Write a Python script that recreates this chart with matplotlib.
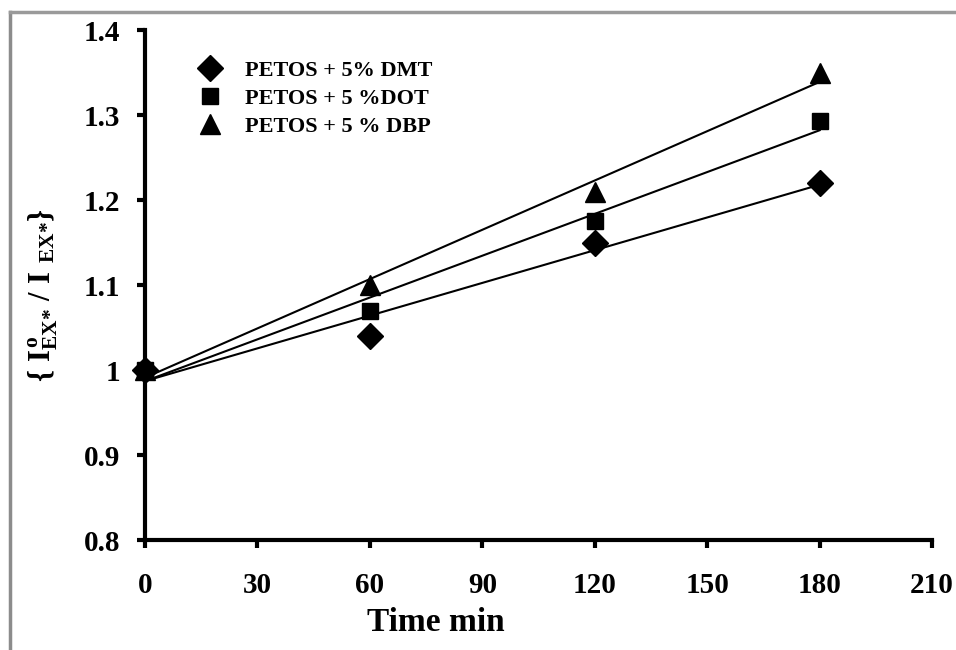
import numpy as np
import matplotlib
matplotlib.use('Agg')
import matplotlib.pyplot as plt
from matplotlib.lines import Line2D

# data
time_min = [0, 60, 120, 180]
dmt = [1.0, 1.04, 1.15, 1.22]
dot = [1.0, 1.07, 1.175, 1.293]
dbp = [1.0, 1.10, 1.21, 1.35]
labels = ['PETOS + 5% DMT', 'PETOS + 5 %DOT', 'PETOS + 5 % DBP']

plt.rcParams['font.family'] = ['Liberation Serif', 'DejaVu Serif']
plt.rcParams['font.weight'] = 'bold'
plt.rcParams['mathtext.fontset'] = 'custom'
plt.rcParams['mathtext.rm'] = 'Liberation Serif:bold'
plt.rcParams['mathtext.it'] = 'Liberation Serif:bold'
plt.rcParams['mathtext.bf'] = 'Liberation Serif:bold'

fig = plt.figure(figsize=(9.56, 6.5), dpi=100)
ax = fig.add_axes([0.1517, 0.1692, 0.8233, 0.7846])

x = np.array(time_min)
markers = ['D', 's', '^']
sizes = [13, 12, 14]
for ys, m, ms, lab in zip([dmt, dot, dbp], markers, sizes, labels):
    ax.plot(x, ys, linestyle='none', marker=m, markersize=ms, color='black',
            label=lab, clip_on=False, zorder=3)
    # linear trend line
    k, b = np.polyfit(x, ys, 1)
    ax.plot(x, k * x + b, color='black', linewidth=1.5)

ax.set_xlim(0, 210)
ax.set_ylim(0.8, 1.4)
ax.set_xticks(np.arange(0, 211, 30))
ax.set_yticks([0.8, 0.9, 1.0, 1.1, 1.2, 1.3, 1.4])
ax.set_yticklabels(['0.8', '0.9', '1', '1.1', '1.2', '1.3', '1.4'])

for s in ['top', 'right']:
    ax.spines[s].set_visible(False)
for s in ['left', 'bottom']:
    ax.spines[s].set_linewidth(3)
ax.tick_params(axis='both', direction='out', length=6, width=3, labelsize=21)
ax.tick_params(axis='x', pad=17)
ax.tick_params(axis='y', pad=12)
for t in ax.get_xticklabels() + ax.get_yticklabels():
    t.set_fontweight('bold')

ax.set_xlabel('Time min', fontsize=24, fontweight='bold')
ax.xaxis.set_label_coords(0.37, -0.131)
ax.set_ylabel(r'$\{\ I^{o}_{\text{EX*}}\ /\ I\ _{\text{EX*}}\}$', fontsize=22)
ax.yaxis.set_label_coords(-0.108, 0.48)

leg = ax.legend(loc='upper left', bbox_to_anchor=(0.04, 0.98), frameon=False,
                prop={'family': 'Liberation Serif', 'weight': 'bold', 'size': 16},
                handletextpad=1.0, labelspacing=0.33, handlelength=1.2)

# outer frame remnants (left and top)
fig.add_artist(Line2D([0.0105, 0.0105], [0, 0.982], transform=fig.transFigure, color='#8c8c8c', lw=2.5))
fig.add_artist(Line2D([0.0105, 1.0], [0.982, 0.982], transform=fig.transFigure, color='#9a9a9a', lw=2.5))

fig.savefig('out.png', dpi=100)
